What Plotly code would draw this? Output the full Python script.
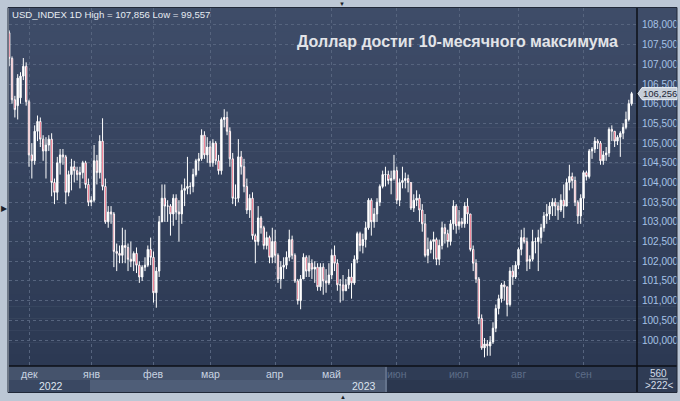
import pandas as pd
import plotly.graph_objects as go

# USD_INDEX daily candles, 22.11.2022 - 26.09.2023
dates = pd.bdate_range("2022-11-22", "2023-09-26")

opens = [
    107.80, 107.15, 106.10, 105.95, 106.15, 106.70, 106.95,
    106.05, 104.70, 104.55, 105.30, 105.55, 105.10, 104.80, 104.95, 105.10, 104.00, 103.75,
    104.50, 104.70, 104.65, 103.75, 104.20, 104.40, 104.30, 104.20, 104.25, 104.50, 103.95,
    103.50, 103.55, 104.55, 104.25, 105.05, 103.90, 103.00, 103.25, 103.20, 102.25, 102.20,
    102.15, 102.40, 102.35, 102.05, 102.00, 102.20, 101.90, 101.60, 101.85, 101.90, 102.30,
    102.10, 101.20, 101.75, 103.00, 103.60, 103.40, 103.40, 103.20, 103.60, 103.25, 103.20,
    103.80, 103.85, 103.90, 103.90, 104.20, 104.55, 104.60, 105.20, 104.70,
    104.90, 104.50, 105.00, 104.55, 104.30, 105.60, 105.65, 105.30, 104.60, 103.60, 103.60,
    104.65, 104.40, 103.90, 103.30, 103.60, 102.65, 102.50, 103.10, 102.85, 102.40, 102.60, 102.10,
    102.50, 102.15, 101.55, 101.85, 101.90, 102.10, 102.55, 102.15, 101.50, 101.00, 101.55,
    102.10, 101.75, 101.95, 101.80, 101.85, 101.35, 101.85, 101.50, 101.45,
    101.65, 102.15, 101.95, 101.40, 101.40, 101.25, 101.40, 101.60, 101.45, 102.05, 102.70,
    102.40, 102.55, 102.85, 103.55, 103.00, 103.20, 103.50, 103.90, 104.20, 104.20, 104.05, 104.10,
    104.30, 103.55, 104.00, 104.05, 104.10, 104.00, 103.35, 103.55, 103.60, 103.30, 102.95,
    102.15, 102.30, 102.50, 102.55, 102.05, 102.40, 102.85, 102.70, 102.50, 102.95, 103.40,
    102.90, 103.00, 102.95, 103.40, 103.20, 102.30, 101.95, 101.55, 100.55, 99.80, 99.90,
    99.85, 99.95, 100.30, 100.80, 101.05, 101.40, 101.35, 100.90, 101.75, 101.60,
    101.90, 102.30, 102.60, 102.50, 102.00, 102.05, 102.50, 102.50, 102.60, 102.85, 103.15,
    103.20, 103.40, 103.50, 103.40, 103.30, 103.55, 103.40, 104.00, 104.15, 104.05, 103.50, 103.15,
    103.60, 104.25, 104.15, 104.80, 104.85, 105.05, 105.00, 104.55, 104.70, 104.75, 105.35,
    105.30, 105.05, 105.15, 105.25, 105.40, 105.60, 106.00,
]
highs = [
    107.86, 107.20, 106.20, 106.75, 106.80, 107.16, 107.05,
    106.10, 105.00, 105.45, 105.70, 105.65, 105.20, 105.15, 105.20, 105.25, 104.10, 104.65,
    104.85, 104.85, 104.70, 104.30, 104.60, 104.55, 104.40, 104.40, 104.55, 104.55, 104.10,
    103.65, 104.95, 104.70, 105.20, 105.63, 104.10, 103.40, 103.40, 103.25, 102.45, 102.40,
    102.85, 102.80, 102.45, 102.50, 102.25, 102.35, 102.00, 101.90, 102.10, 102.40, 102.60,
    102.25, 101.85, 103.15, 103.95, 103.95, 103.55, 103.45, 103.70, 103.70, 103.55, 103.95,
    104.10, 104.65, 104.00, 104.35, 104.60, 104.75, 105.35, 105.30, 105.15,
    105.05, 105.10, 105.05, 104.70, 105.65, 105.86, 105.80, 105.40, 104.75, 103.95, 105.10,
    104.80, 104.60, 104.10, 103.70, 103.75, 102.70, 103.40, 103.15, 102.90, 102.75, 102.65, 102.85,
    102.80, 102.20, 102.00, 102.10, 102.25, 102.80, 102.65, 102.20, 101.55, 101.65, 102.20,
    102.15, 102.15, 102.05, 102.00, 101.95, 101.95, 101.95, 101.80, 101.95,
    102.30, 102.40, 102.05, 101.55, 101.65, 101.55, 101.80, 101.95, 102.15, 102.75, 102.75,
    102.70, 103.00, 103.60, 103.60, 103.35, 103.60, 103.95, 104.30, 104.40, 104.30, 104.30, 104.70,
    104.40, 104.10, 104.40, 104.25, 104.20, 104.00, 103.70, 103.80, 103.70, 103.45, 103.20,
    102.60, 102.55, 102.75, 102.60, 102.55, 103.00, 102.95, 102.80, 103.05, 103.55, 103.45,
    103.30, 103.10, 103.50, 103.60, 103.20, 102.40, 102.05, 101.60, 100.65, 100.05, 100.00,
    100.10, 100.45, 100.90, 101.15, 101.45, 101.50, 101.35, 101.85, 101.90, 102.00,
    102.35, 102.80, 102.85, 102.60, 102.15, 102.80, 102.60, 102.80, 102.95, 103.25, 103.45,
    103.50, 103.60, 103.60, 103.50, 103.70, 103.95, 104.10, 104.45, 104.25, 104.15, 103.55, 103.70,
    104.30, 104.30, 104.85, 104.90, 105.15, 105.10, 105.05, 104.80, 104.90, 105.40, 105.45,
    105.30, 105.20, 105.30, 105.50, 105.80, 106.10, 106.30,
]
lows = [
    106.95, 106.00, 105.65, 105.60, 106.00, 106.60, 105.95,
    104.40, 104.10, 104.45, 105.05, 104.90, 104.55, 104.10, 104.80, 103.65, 103.45, 103.55,
    104.20, 104.45, 103.45, 103.65, 103.80, 104.00, 104.05, 103.85, 104.10, 103.85, 103.40,
    103.40, 103.50, 103.95, 104.10, 103.80, 102.95, 102.85, 102.95, 101.85, 101.75, 101.95,
    101.95, 101.95, 101.75, 101.85, 101.75, 101.70, 101.45, 101.50, 101.75, 101.85, 101.90,
    100.95, 100.82, 101.60, 103.00, 103.00, 103.00, 102.65, 102.90, 103.05, 102.50, 102.95,
    103.40, 103.70, 103.70, 103.75, 104.15, 104.30, 104.55, 104.60, 104.50,
    104.40, 104.40, 104.45, 104.20, 104.20, 105.40, 105.20, 104.40, 103.45, 103.40, 103.50,
    104.20, 103.75, 103.20, 103.10, 102.55, 101.95, 102.40, 102.70, 102.30, 102.30, 101.95, 101.95,
    101.95, 101.45, 101.30, 101.55, 101.80, 102.00, 102.05, 101.45, 100.90, 100.78, 101.55,
    101.60, 101.60, 101.55, 101.45, 101.25, 101.25, 101.15, 101.20, 101.40,
    101.55, 101.75, 101.25, 100.95, 101.00, 101.25, 101.30, 101.05, 101.40, 101.95, 102.25,
    102.20, 102.35, 102.80, 102.65, 102.85, 103.00, 103.40, 103.85, 103.90, 103.95, 103.70, 104.05,
    103.45, 103.40, 103.85, 103.85, 103.75, 103.30, 103.25, 103.40, 103.00, 102.75, 102.10,
    101.95, 102.20, 102.05, 101.90, 101.90, 102.30, 102.45, 102.35, 102.40, 102.80, 102.70,
    102.80, 102.85, 102.85, 102.95, 102.25, 101.75, 101.45, 100.40, 99.75, 99.56, 99.60,
    99.60, 99.90, 100.20, 100.65, 100.95, 101.00, 100.60, 100.85, 101.40, 101.55,
    101.80, 102.15, 102.45, 101.75, 101.80, 102.00, 102.20, 101.75, 102.45, 102.75, 102.95,
    103.05, 103.15, 103.15, 103.05, 103.25, 103.10, 103.40, 103.80, 103.85, 103.40, 102.95, 102.95,
    103.30, 104.05, 104.10, 104.60, 104.75, 104.85, 104.45, 104.45, 104.55, 104.65, 105.05,
    104.90, 104.95, 104.65, 105.10, 105.35, 105.55, 105.95,
]
closes = [
    107.15, 106.10, 105.85, 106.65, 106.70, 106.95, 106.05,
    104.70, 104.55, 105.30, 105.55, 105.10, 104.80, 104.95, 105.10, 104.00, 103.75, 104.50,
    104.70, 104.65, 103.75, 104.20, 104.40, 104.30, 104.20, 104.25, 104.50, 103.95, 103.50,
    103.55, 104.55, 104.25, 105.05, 103.90, 103.00, 103.25, 103.20, 102.25, 102.20, 102.15,
    102.40, 102.35, 102.05, 102.00, 102.20, 101.90, 101.60, 101.85, 101.90, 102.30, 102.10,
    101.20, 101.75, 103.00, 103.60, 103.40, 103.40, 103.20, 103.60, 103.25, 103.20, 103.80,
    103.85, 103.90, 103.90, 104.20, 104.55, 104.60, 105.20, 104.70, 104.90,
    104.50, 105.00, 104.55, 104.30, 105.60, 105.65, 105.30, 104.60, 103.60, 103.60, 104.65,
    104.40, 103.90, 103.30, 103.60, 102.65, 102.50, 103.10, 102.85, 102.40, 102.60, 102.10, 102.50,
    102.15, 101.55, 101.85, 101.90, 102.10, 102.55, 102.15, 101.50, 101.00, 101.55, 102.10,
    101.75, 101.95, 101.80, 101.85, 101.35, 101.85, 101.50, 101.45, 101.65,
    102.15, 101.95, 101.40, 101.40, 101.25, 101.40, 101.60, 101.45, 102.05, 102.70, 102.40,
    102.55, 102.85, 103.55, 103.00, 103.20, 103.50, 103.90, 104.20, 104.20, 104.05, 104.10, 104.30,
    103.55, 104.00, 104.05, 104.10, 104.00, 103.35, 103.55, 103.60, 103.30, 102.95, 102.15,
    102.30, 102.50, 102.55, 102.05, 102.40, 102.85, 102.70, 102.50, 102.95, 103.40, 102.90,
    103.00, 102.95, 103.40, 103.20, 102.30, 101.95, 101.55, 100.55, 99.80, 99.90, 99.85,
    99.95, 100.30, 100.80, 101.05, 101.40, 101.35, 100.90, 101.75, 101.60, 101.90,
    102.30, 102.60, 102.50, 102.00, 102.05, 102.50, 102.50, 102.60, 102.85, 103.15, 103.20,
    103.40, 103.50, 103.40, 103.30, 103.55, 103.40, 104.00, 104.15, 104.05, 103.50, 103.15, 103.60,
    104.25, 104.15, 104.80, 104.85, 105.05, 105.00, 104.55, 104.70, 104.75, 105.35, 105.30,
    105.05, 105.15, 105.25, 105.40, 105.60, 106.00, 106.256,
]

month_names = ["дек", "янв", "фев", "мар", "апр", "май", "июн", "июл", "авг", "сен"]
price_ticks = [100.0, 100.5, 101.0, 101.5, 102.0, 102.5, 103.0, 103.5, 104.0,
               104.5, 105.0, 105.5, 106.0, 106.5, 107.0, 107.5, 108.0]
last_price = closes[-1]
y_range = [99.34, 108.43]

# plot area in pixels: x 9..637, y 8..366 of a 680x401 page
L, R, T, B = 9, 637, 8, 366
W, H = 680, 401


def px(x):
    return (x - L) / (R - L)


def py(y):
    return (B - y) / (B - T)


def fmt(v):
    return f"{v:.3f}".replace(".", ",")


def label(text, x, y, size, color, anchor="center", xref="paper"):
    return dict(x=x if xref == "x" else px(x), xref=xref, y=py(y), yref="paper",
                text=text, showarrow=False, xanchor=anchor, yanchor="middle",
                font=dict(size=size, color=color))


xs = list(range(len(dates)))
month_starts = [i for i in range(1, len(dates)) if dates[i].month != dates[i - 1].month]

fig = go.Figure(go.Candlestick(
    x=xs, open=opens, high=highs, low=lows, close=closes,
    increasing=dict(line=dict(color="white", width=1), fillcolor="white"),
    decreasing=dict(line=dict(color="white", width=1), fillcolor="#e3062c"),
    hoverinfo="skip", showlegend=False,
))

shapes = []
# background gradient of the chart panel (plot + price scale)
n_bands = 30
top_rgb, bot_rgb = (62, 76, 104), (44, 57, 83)
for k in range(n_bands):
    t = k / (n_bands - 1)
    c = tuple(round(top_rgb[j] + (bot_rgb[j] - top_rgb[j]) * t) for j in range(3))
    y0 = T + (B - T) * k / n_bands
    y1 = T + (B - T) * (k + 1) / n_bands
    shapes.append(dict(type="rect", xref="paper", yref="paper", layer="below",
                       x0=px(L), x1=px(677), y0=py(y0), y1=py(y1 + 0.5),
                       fillcolor="rgb(%d,%d,%d)" % c, line=dict(width=0)))

# time scale strip
strip = [
    (L, 387, 366, 380, "#45536c"),
    (L, 90, 380, 392, "#3a4862"),
    (90, 387, 380, 392, "#4f5e78"),
    (387, R, 366, 380, "#2f3c55"),
    (387, R, 380, 392, "#2b374f"),
    (R, 677, 366, 392, "#2f3c55"),
]
for x0, x1, y0, y1, col in strip:
    shapes.append(dict(type="rect", xref="paper", yref="paper", layer="below",
                       x0=px(x0), x1=px(x1), y0=py(y0), y1=py(y1),
                       fillcolor=col, line=dict(width=0)))
shapes.append(dict(type="line", xref="paper", yref="paper", x0=px(386), x1=px(386),
                   y0=py(367), y1=py(392), line=dict(color="#7c8aa2", width=1)))
# black separators
shapes.append(dict(type="line", xref="paper", yref="paper", x0=px(R), x1=px(R),
                   y0=py(T), y1=py(392), line=dict(color="#0c0f16", width=1.5)))
shapes.append(dict(type="line", xref="paper", yref="paper", x0=px(L), x1=px(677),
                   y0=py(B), y1=py(B), line=dict(color="#0c0f16", width=1.5)))
shapes.append(dict(type="line", xref="paper", yref="paper", x0=px(649), x1=px(668),
                   y0=py(379), y1=py(379), line=dict(color="#c9d3e2", width=1)))
# outer frame
shapes.append(dict(type="rect", xref="paper", yref="paper", x0=px(8), x1=px(677),
                   y0=py(7.5), y1=py(392.5), line=dict(color="#202838", width=1)))
# last price tag
tag_y = T + (y_range[1] - last_price) / (y_range[1] - y_range[0]) * (B - T)
shapes.append(dict(type="path", xref="paper", yref="paper",
                   path="M %f,%f L %f,%f L %f,%f L %f,%f L %f,%f Z" % (
                       px(638), py(tag_y), px(642), py(tag_y - 6), px(677), py(tag_y - 6),
                       px(677), py(tag_y + 6), px(642), py(tag_y + 6)),
                   fillcolor="#c6ced9", line=dict(color="#e8edf3", width=1)))

ann = []
for i, name in zip(month_starts, month_names):
    dim = dates[i].year == 2023 and dates[i].month >= 6
    ann.append(label(name, i, 374, 10.5, "#5d6d88" if dim else "#c9d3e2", xref="x"))
ann.append(label("2022", 51, 386, 10.5, "#dde4ee"))
ann.append(label("2023", 364, 386, 10.5, "#dde4ee"))
ann.append(label("560", 658, 373, 10, "#d5dde8"))
ann.append(label(">222<", 659, 385.5, 10, "#d5dde8"))
ann.append(label(fmt(last_price), 659.5, tag_y, 9.5, "#1d2636"))
ann.append(label("USD_INDEX 1D High = 107,856 Low = 99,557", 10, 15, 9.6, "#e6ebf2", anchor="left"))
ann.append(label("<b>Доллар достиг 10-месячного максимума</b>", 620, 42, 16, "#e2e4e8", anchor="right"))
# window handles
ann.append(label("▶", 4, 208, 8, "#1a1e28"))
ann.append(label("▼", 342, 3.5, 6, "#1a1e28"))
ann.append(label("▲", 343, 396.5, 6, "#1a1e28"))

fig.update_layout(
    width=W, height=H,
    margin=dict(l=L, r=W - R, t=T, b=H - B, pad=0, autoexpand=False),
    paper_bgcolor="#bcc7d5",
    plot_bgcolor="rgba(0,0,0,0)",
    font=dict(family="Liberation Sans, Arial, sans-serif"),
    shapes=shapes,
    annotations=ann,
    showlegend=False,
    hovermode=False,
)
fig.update_xaxes(
    range=[-0.07, 221.9], rangeslider_visible=False, automargin=False,
    tickvals=month_starts, showticklabels=False, ticks="",
    showgrid=True, gridcolor="#56647e", griddash="3px,3px", gridwidth=1,
    zeroline=False, showline=False,
)
fig.update_yaxes(
    range=y_range, side="right", automargin=False,
    tickvals=price_ticks, ticktext=[fmt(v) for v in price_ticks],
    ticks="", ticklabelstandoff=4,
    tickfont=dict(size=10, color="#a6c2e6"),
    showgrid=True, gridcolor="#56647e", griddash="3px,3px", gridwidth=1,
    zeroline=False, showline=False,
)

# the page is a bare window onto the chart: drop the default body margin
fig.write_html(
    "out.html",
    config={"displayModeBar": False},
    post_script="document.body.style.margin='0';document.body.style.overflow='hidden';",
)
